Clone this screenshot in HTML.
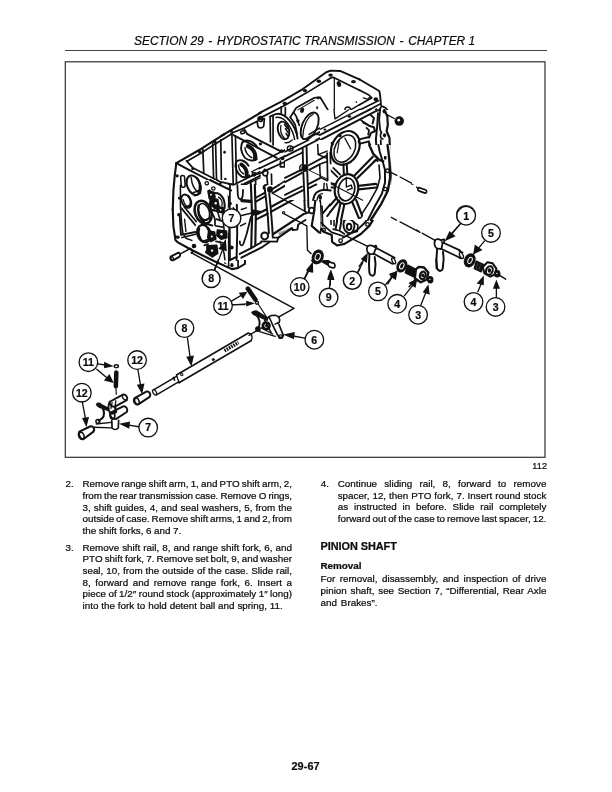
<!DOCTYPE html>
<html><head><meta charset="utf-8">
<style>
html,body{margin:0;padding:0;background:#fff;}
body{width:612px;height:792px;position:relative;overflow:hidden;font-family:"Liberation Sans",sans-serif;color:#0c0c0c;-webkit-text-stroke:0.22px #0c0c0c;}
.hdr{position:absolute;left:134px;top:35.9px;font-size:11.95px;line-height:11.95px;font-style:italic;white-space:nowrap;}
.hline{position:absolute;left:65px;top:50px;width:482px;height:1.4px;background:#444;}
.l{position:absolute;white-space:nowrap;font-size:9.85px;line-height:9.85px;}
svg{position:absolute;left:0;top:0;filter:blur(0.35px);}
.c{position:absolute;width:30px;text-align:center;font-weight:bold;font-size:10.6px;line-height:10.6px;}
#wrap{position:absolute;left:0;top:0;width:612px;height:792px;will-change:transform;}
</style></head><body><div id="wrap">
<div class="hdr">SECTION 29 <span style="padding:0 1.33px">-</span> HYDROSTATIC TRANSMISSION <span style="padding:0 1.33px">-</span> CHAPTER 1</div>
<div class="hline"></div>
<svg width="612" height="792" viewBox="0 0 612 792" fill="none" stroke="#111" stroke-width="1" stroke-linecap="round" stroke-linejoin="round">
<rect x="65.3" y="61.8" width="479.7" height="395.5" stroke="#303030" stroke-width="1.2" stroke-linejoin="miter"/>

<g transform="translate(200,95) scale(0.1634)" stroke-width="10.40">
<path d="M130,250 L190,215 L372,108" stroke-width="13.00"/>
<path d="M188,240 L205,228 L268,204 L350,160 L354,192 C360,205 385,205 390,190 L394,145 L365,150" stroke-width="10.40"/>
<ellipse cx="190" cy="222" rx="11" ry="9" fill="#111" stroke="none"/><ellipse cx="372" cy="136" rx="12" ry="9" fill="#111" stroke="none"/>
<ellipse cx="262" cy="228" rx="14" ry="8" transform="rotate(-20 262 228)" stroke-width="9.10"/>
<path d="M268,204 L290,240" stroke-width="10.40"/>
<path d="M205,245 L470,385" stroke-width="11.70"/><path d="M290,240 L495,345" stroke-width="11.70"/>
<g fill="#111" stroke="none"><ellipse cx="370" cy="300" rx="10" ry="9"/><ellipse cx="500" cy="345" rx="13" ry="10"/><ellipse cx="505" cy="388" rx="12" ry="9"/></g>
</g>

<g transform="translate(260,60) scale(0.1634)" stroke-width="10.40">
<path d="M-5,325 L130,255 L262,178 L405,75 L432,65 L490,67 L612,120" stroke-width="11.70"/>
<path d="M-5,358 L20,345 L150,278 L290,198 L440,106 L455,108"/>
<g fill="#111" stroke="none">
<ellipse cx="152" cy="266" rx="14" ry="11"/><ellipse cx="275" cy="187" rx="13" ry="10"/><ellipse cx="360" cy="130" rx="14" ry="11"/><ellipse cx="432" cy="92" rx="14" ry="10"/>
<ellipse cx="483" cy="147" rx="13" ry="18" transform="rotate(-20 483 147)"/><ellipse cx="572" cy="133" rx="15" ry="10"/>
<ellipse cx="258" cy="308" rx="12" ry="16" transform="rotate(20 258 308)"/><ellipse cx="232" cy="372" rx="10" ry="10"/><ellipse cx="350" cy="292" rx="6" ry="9"/><ellipse cx="356" cy="232" rx="10" ry="8"/>
<ellipse cx="545" cy="346" rx="13" ry="9"/><ellipse cx="400" cy="428" rx="11" ry="8"/><circle cx="590" cy="258" r="5"/>
</g>
<path d="M455,108 L455,360" stroke-width="7.80"/>
<!-- bearing plate -->
<path d="M185,350 L205,320 L222,292 L330,232 L368,228 L450,362"/>
<path d="M232,305 L332,246" stroke-width="6.50"/>
<path d="M185,350 L200,372 L215,395 L228,459"/>
<path d="M205,320 L222,345 L240,400"/>
<!-- big bore -->
<ellipse cx="304" cy="404" rx="46" ry="88" transform="rotate(24 304 404)" stroke-width="11.70"/>
<path d="M262,470 C262,415 285,352 325,332" stroke-width="7.80"/>
<!-- arch plate -->
<path d="M62,346 L64,500 M80,340 L80,520" stroke-width="10.40"/>
<path d="M62,346 L80,338 C115,318 150,335 180,370 C210,405 225,440 230,480" stroke-width="11.70"/>
<path d="M98,352 C125,345 150,362 172,392 C195,425 208,455 212,488" stroke-width="9.10"/>
<path d="M130,287 L130,326"/><path d="M155,292 L155,336"/>
<ellipse cx="144" cy="431" rx="34" ry="55" transform="rotate(-15 144 431)" stroke-width="11.70"/>
<path d="M128,400 C122,430 132,462 150,478" stroke-width="7.80"/>
<path d="M150,395 L168,420 M156,420 L172,445 M160,450 L170,465" stroke-width="9.10"/>
<circle cx="2" cy="362" r="14"/>
<!-- small circle right -->
<circle cx="537" cy="304" r="17" stroke-width="9.10"/>
<path d="M457,110 L612,186"/>
<path d="M612,272 L460,360 L300,455" stroke-width="9.10"/>
<path d="M612,308 L325,462" stroke-width="11.70"/>
<path d="M612,338 L400,459" stroke-width="11.70"/>
<path d="M620,376 L460,459" stroke-width="9.10"/>
<path d="M495,470 C500,430 545,415 580,425 C600,432 610,450 612,470" stroke-width="11.70"/>
<path d="M520,470 C530,445 560,440 585,452" stroke-width="9.10"/>
<circle cx="487" cy="470" r="9" fill="#111" stroke="none"/>
</g>

<g transform="translate(360,60) scale(0.1634)" stroke-width="10.40">
<path d="M-5,118 L118,190 L123,215 L126,250" stroke-width="11.70"/>
<path d="M-5,183 L55,214 L72,232 L40,250 L-5,275"/>
<path d="M20,232 L45,240 L60,228" stroke-width="7.80"/>
<ellipse cx="97" cy="240" rx="14" ry="12" fill="#111" stroke="none"/>
<path d="M112,250 L-5,308"/>
<path d="M126,268 L-5,338"/>
<path d="M126,250 L130,282 C150,285 172,300 172,322 C172,340 160,348 158,352 L165,459"/>
<circle cx="150" cy="318" r="13" fill="#111" stroke="none"/>
<path d="M128,290 C118,300 112,320 122,340 L128,400 L132,440 L150,459"/>
<path d="M168,330 L215,358" stroke-width="7.80"/>
<circle cx="238" cy="372" r="29" fill="#111" stroke="none"/>
<circle cx="236" cy="368" r="9" fill="#fff" stroke="none"/>
<path d="M100,300 L80,332 L60,345"/>
<path d="M100,345 L95,400 L100,459"/>
<path d="M-5,350 L30,340 L60,345 L80,380 L70,420 L40,400 L20,365"/>
<path d="M60,425 L40,459"/>
<path d="M-5,395 L30,420 L60,459" stroke-width="13.00"/>
</g>

<g transform="translate(260,135) scale(0.1634)" stroke-width="10.40">
<!-- near top flange lines -->
<path d="M-5,205 L130,140 L260,75 L410,-5"/>
<path d="M-5,238 L40,215 L150,165 L262,108 L440,12 L470,-5"/>
<path d="M-5,170 L100,118 L230,52 L330,-5" stroke-width="9.10"/>
<!-- partition wall top from upper-left -->
<ellipse cx="130" cy="98" rx="12" ry="9" fill="#111" stroke="none"/>
<ellipse cx="138" cy="148" rx="9" ry="7" fill="#111" stroke="none"/>
<ellipse cx="182" cy="80" rx="17" ry="16"/><path d="M182,66 L182,96" stroke-width="6.50"/>
<path d="M125,160 L125,195 L150,195 L150,165"/>
<path d="M25,215 C10,225 15,250 35,250 C50,248 52,225 40,215"/>
<circle cx="30" cy="212" r="7" fill="#111" stroke="none"/>
<!-- top items -->
<path d="M340,-5 L420,5"/>
<!-- vertical rib center -->
<path d="M262,108 L262,185 M290,95 L292,185"/>
<path d="M262,215 L270,330 L272,459 M296,215 L298,320 L298,459"/>
<ellipse cx="278" cy="200" rx="20" ry="22" fill="#111" stroke="none"/>
<!-- vertical rib left -->
<path d="M42,250 L48,325 M70,240 L72,320"/>
<path d="M50,370 L55,459 M80,365 L82,459"/>
<ellipse cx="65" cy="345" rx="20" ry="22" fill="#111" stroke="none"/>
<path d="M20,340 C10,320 25,310 40,320" stroke-width="7.80"/>
<path d="M-5,330 L20,340 M-5,395 L40,372"/>
<!-- horizontal rib 1 -->
<path d="M85,325 L255,215 M300,190 L400,140 L440,120"/>
<path d="M88,355 L260,240 M300,218 L420,155"/>
<!-- horizontal rib 2 -->
<path d="M85,440 L268,335 M300,318 L400,268"/>
<path d="M110,459 L270,362 M300,345 L410,290"/>
<path d="M-5,459 L45,430"/>
<!-- right region: vertical and bell flange -->
<path d="M350,60 L350,130 M375,75 L378,125 L420,105"/>
<path d="M378,75 L440,100 L440,160"/>
<path d="M405,175 L410,300 M430,165 L432,290"/>
<path d="M355,150 L358,260 L400,280"/>
<!-- big ring arcs -->
<path d="M470,-5 C440,50 430,120 450,165 C480,195 540,150 570,80 C590,40 590,10 588,-5" stroke-width="11.70"/>
<path d="M500,-5 C470,60 465,120 475,150 C510,150 545,90 560,30 L565,-5"/>
<path d="M520,-5 C540,30 560,60 612,75" stroke-width="9.10"/>
<path d="M560,-5 C575,30 595,45 612,50" stroke-width="9.10"/>
<!-- hub circle -->
<path d="M470,330 C470,280 510,245 555,255 C590,262 612,290 612,300" stroke-width="11.70"/>
<path d="M470,330 C468,370 480,400 505,412" stroke-width="11.70"/>
<path d="M495,335 C495,300 525,278 555,282 C580,288 600,310 600,335 C598,370 570,400 540,405 C510,400 495,370 495,335" />
<path d="M530,330 L570,300 L585,325 L545,340" stroke-width="7.80"/>
<path d="M555,260 L540,300 M520,290 L500,380"/>
<!-- spokes lower -->
<path d="M505,412 L440,459 M480,400 L400,459"/>
<path d="M560,410 L612,459 M590,390 L612,410"/>
<!-- bracket lower center -->
<path d="M320,459 L325,380 C335,350 370,340 400,345 L440,350 L470,345" stroke-width="11.70"/>
<path d="M345,459 L350,395 C360,375 380,370 395,375"/>
<ellipse cx="368" cy="380" rx="8" ry="12" fill="#111" stroke="none"/>
<path d="M400,290 L395,345 M420,300 L430,345"/>
<path d="M440,390 L445,459"/>
</g>

<g transform="translate(160,135) scale(0.1634)" stroke-width="10.40">
<path d="M100,172 L240,92 L335,31 L395,-5" stroke-width="13.00"/>
<path d="M165,160 L250,112 L335,56 L435,-5"/>
<ellipse cx="243" cy="103" rx="11" ry="10" fill="#111" stroke="none"/><ellipse cx="335" cy="42" rx="11" ry="10" fill="#111" stroke="none"/>
<path d="M100,172 L90,250 L82,340 L78,459" stroke-width="13.00"/>
<path d="M100,172 L180,215 L300,277 L440,338" stroke-width="11.70"/>
<path d="M162,158 L200,200 L370,288 L452,305"/>
<ellipse cx="200" cy="207" rx="9" ry="8" fill="#111" stroke="none"/><ellipse cx="370" cy="296" rx="11" ry="10" fill="#111" stroke="none"/><ellipse cx="400" cy="270" rx="8" ry="9" fill="#111" stroke="none"/><ellipse cx="395" cy="105" rx="8" ry="9" fill="#111" stroke="none"/>
<path d="M440,338 L612,250" stroke-width="11.70"/><path d="M452,305 L612,225"/>
<path d="M470,330 L612,262" stroke-width="7.80"/>
<path d="M440,338 L436,400 L430,459 M470,335 L468,459"/>
<!-- inner walls -->
<path d="M262,85 L268,235 M322,52 L328,265 M340,45 L346,272 M372,30 L376,290 M440,-5 L448,300 M462,10 L468,292"/>
<!-- partition bores -->
<path d="M505,45 C490,70 495,110 520,140 C545,160 580,160 592,148" stroke-width="11.70"/>
<path d="M505,45 C530,22 575,38 597,78" stroke-width="11.70"/>
<path d="M538,68 C568,82 588,112 582,145" stroke-width="26.00"/>
<path d="M520,78 C520,102 540,130 562,138" stroke-width="9.10"/>
<path d="M465,165 C455,195 470,235 500,255 C520,262 540,256 546,246" stroke-width="11.70"/>
<path d="M465,165 C485,143 522,155 542,188" stroke-width="11.70"/>
<path d="M497,180 C520,195 534,220 530,245" stroke-width="23.40"/>
<path d="M480,185 C482,205 495,228 512,238" stroke-width="9.10"/>
<path d="M560,225 L612,200 M560,250 L612,235" stroke-width="7.80"/>
<circle cx="575" cy="240" r="10"/>
<!-- front face features -->
<circle cx="105" cy="250" r="10" fill="#111" stroke="none"/>
<circle cx="290" cy="297" r="11"/><circle cx="328" cy="327" r="11"/>
<circle cx="122" cy="385" r="8" fill="#111" stroke="none"/>
<path d="M130,400 C128,370 150,360 172,378 C195,400 200,440 195,459" stroke-width="11.70"/>
<path d="M150,459 C140,430 140,400 152,395" stroke-width="9.10"/>
<path d="M215,459 C215,420 235,400 260,410 C280,420 290,440 292,459" stroke-width="11.70"/>
<path d="M240,459 L245,420 M262,459 L262,425" stroke-width="7.80"/>
<path d="M128,330 C140,345 150,350 160,348" stroke-width="9.10"/>
<!-- dark complex region -->
<path d="M285,345 L330,350 L345,385 L320,420 L300,400 Z" fill="#111"/>
<path d="M330,410 L365,395 L380,430 L350,459 L325,450 Z" fill="#111"/>
<path d="M350,360 C375,345 410,355 420,390 C425,420 415,445 405,459" stroke-width="13.00"/>
<path d="M375,380 C395,380 400,410 392,440" stroke-width="10.40"/>
<path d="M270,330 L275,380 L290,420" stroke-width="11.70"/>
<circle cx="432" cy="415" r="11" fill="#111" stroke="none"/>
<!-- right of D: wall details -->
<path d="M500,300 L498,380 M520,295 L520,330" stroke-width="9.10"/>
<circle cx="515" cy="322" r="7" fill="#111" stroke="none"/>
<path d="M490,380 L560,400 L575,395" stroke-width="13.00"/>
<path d="M555,285 L560,459 M585,275 L588,459"/>
</g>

<g transform="translate(160,210) scale(0.1634)" stroke-width="10.40">
<path d="M78,-5 L82,100 L95,185 L112,200 L200,248 L330,312 L440,362 L478,355" stroke-width="13.00"/>
<path d="M140,-5 L142,60 L148,150 L160,185 L200,205" stroke-width="11.70"/>
<path d="M110,60 L112,150" stroke-width="9.10"/>
<g fill="#111" stroke="none">
<circle cx="118" cy="30" r="11"/><circle cx="108" cy="165" r="11"/><ellipse cx="207" cy="212" rx="17" ry="15"/><circle cx="283" cy="252" r="12"/>
<ellipse cx="437" cy="228" rx="9" ry="13"/><ellipse cx="440" cy="338" rx="10" ry="13"/><ellipse cx="398" cy="312" rx="8" ry="11"/>
</g>
<!-- D edge verticals -->
<path d="M430,-5 L425,100 L418,200 L420,350 M468,-5 L470,110 L476,200 L478,355"/>
<path d="M392,190 L390,300 L400,325" stroke-width="11.70"/>
<!-- right wall part -->
<path d="M478,355 L520,330 L520,290 L612,240" stroke-width="11.70"/>
<path d="M500,270 L495,200 C490,180 510,170 515,190 L515,260" stroke-width="10.40"/>
<path d="M540,60 C535,100 520,140 515,180" stroke-width="11.70"/>
<path d="M565,40 L560,90 L530,150" stroke-width="10.40"/>
<path d="M590,100 L585,230 M560,200 L612,180" stroke-width="11.70"/>
<path d="M500,275 L580,235" stroke-width="10.40"/>
<!-- pin -->
<path d="M65,285 L110,262 C122,260 128,275 120,285 L80,308 C68,310 60,298 65,285 Z" stroke-width="11.70"/>
<ellipse cx="74" cy="297" rx="8" ry="11" transform="rotate(-25 74 297)" stroke-width="7.80"/>
<path d="M130,265 L200,228" stroke-width="9.10"/>
<!-- long line -->
<path d="M192,262 L205,250" stroke-width="10.40"/>
<!-- interior bores -->
<path d="M150,20 L215,110 M175,20 L230,95" stroke-width="10.40"/>
<path d="M150,120 L215,135 M150,150 L200,170" stroke-width="10.40"/>
<path d="M215,-5 C225,40 260,70 310,60 C335,50 335,20 330,-5" stroke-width="15.60"/>
<path d="M250,-5 C265,30 290,40 310,30" stroke-width="13.00"/>
<path d="M235,120 C240,90 275,85 300,110 C320,135 320,170 305,185 C275,190 240,160 235,120" stroke-width="13.00"/>
<path d="M262,110 C285,125 298,150 295,178" stroke-width="10.40"/>
<path d="M235,190 L300,165" stroke-width="11.70"/>
<path d="M330,90 L350,70 L380,80 L360,110 Z" fill="#111"/>
<path d="M340,120 L400,105 L415,150 L380,170 L345,160 Z" fill="#111"/>
<circle cx="378" cy="135" r="9" fill="#fff" stroke="none"/>
<path d="M310,200 L350,180 L370,215 L345,250 L315,240 Z" fill="#111"/>
<path d="M330,215 L345,225" stroke="#fff" stroke-width="7.80"/>
<path d="M300,250 L340,270 M270,235 L300,215" stroke-width="11.70"/>
<path d="M345,40 C360,60 370,90 365,120" stroke-width="10.40"/>
<path d="M320,140 L325,200" stroke-width="10.40"/>
<!-- arrow 8 -->
<path d="M332,368 L385,235" stroke-width="9.10"/>
<path d="M405,182 L352,238 L400,256 Z" fill="#111" stroke="none"/>
<!-- arrow 7 -->
<path d="M494,42 L575,25" stroke-width="9.10"/>
<path d="M560,8 L625,12 L575,45 Z" fill="#111" stroke="none"/>
<circle cx="437" cy="52" r="56" fill="#fff" stroke-width="9.10"/>
<circle cx="313" cy="420" r="55" fill="#fff" stroke-width="9.10"/>
</g>

<g transform="translate(260,210) scale(0.1634)" stroke-width="10.40">
<!-- bottom flange of side wall -->
<path d="M-5,210 L100,160 L235,88 L300,55" stroke-width="13.00"/>
<path d="M-5,235 L60,200 L110,185 L120,165" stroke-width="11.70"/>
<path d="M95,150 L200,100 M105,165 L205,118" stroke-width="9.10"/>
<path d="M200,100 L205,125 L235,110" stroke-width="10.40"/>
<path d="M-5,60 L60,20 L110,-5 M-5,95 L150,10" stroke-width="11.70"/>
<path d="M150,10 L260,-5" stroke-width="9.10"/>
<path d="M40,-5 L55,90 L60,150 M75,-5 L85,120" stroke-width="11.70"/>
<circle cx="25" cy="165" r="18" stroke-width="11.70"/><circle cx="25" cy="165" r="6" fill="#111"/>
<path d="M-5,150 L15,148 M-5,190 L20,185" stroke-width="10.40"/>
<path d="M265,-5 L275,60 M300,-5 L300,55" stroke-width="11.70"/>
<!-- leader to 10 -->
<circle cx="142" cy="18" r="7" stroke-width="7.80"/>
<path d="M150,25 L270,95 L290,112 L292,250 L312,268" stroke-width="9.10"/>
<!-- washer 10 -->
<ellipse cx="346" cy="287" rx="30" ry="40" transform="rotate(20 346 287)" fill="#111"/>
<ellipse cx="346" cy="287" rx="15" ry="22" transform="rotate(20 346 287)" stroke="#fff" stroke-width="6.50"/>
<!-- bolt 9 -->
<path d="M385,305 L425,328" stroke-width="33.80" stroke-linecap="butt"/>
<path d="M420,318 L450,325 C462,332 462,350 450,355 L430,350 C418,345 415,330 420,318 Z" fill="#fff" stroke-width="10.40"/>
<!-- arrows -->
<path d="M272,420 L300,360" stroke-width="9.10"/><path d="M325,325 L282,372 L322,385 Z" fill="#111" stroke="none"/>
<path d="M430,459 L430,400" stroke-width="9.10"/><path d="M432,365 L412,418 L452,418 Z" fill="#111" stroke="none"/>
<circle cx="565" cy="430" r="55" fill="#fff" stroke-width="9.10"/>
<path d="M600,380 L612,355" stroke-width="9.10"/>
<!-- bell bottom -->
<path d="M300,55 L318,50 L320,105 L360,125 L372,150 L440,165 L448,195 L500,215 L560,185 L612,150" stroke-width="13.00"/>
<path d="M330,55 L335,95 L385,115 L400,100" stroke-width="10.40"/>
<path d="M380,120 L395,135 L430,110 L440,60 L480,45" stroke-width="11.70"/>
<circle cx="385" cy="125" r="10" stroke-width="7.80"/>
<circle cx="495" cy="185" r="11" stroke-width="7.80"/>
<path d="M445,160 L520,170 L612,120" stroke-width="10.40"/>
<path d="M470,-5 L440,95 M495,-5 L460,110" stroke-width="10.40"/>
<path d="M360,-5 L380,40 L420,50" stroke-width="10.40"/>
<path d="M435,60 L438,85" stroke-width="7.80"/>
<!-- boss -->
<path d="M505,95 C500,70 520,55 545,60 L575,70 C590,85 590,120 570,135 L535,135 C515,130 508,115 505,95" stroke-width="11.70"/>
<ellipse cx="545" cy="102" rx="14" ry="18" fill="#111"/>
<ellipse cx="545" cy="102" rx="5" ry="7" fill="#fff" stroke="none"/>
<path d="M580,85 L612,60 M585,130 L612,110" stroke-width="10.40"/>
<path d="M520,-5 L530,60 M560,-5 L565,65" stroke-width="10.40"/>
</g>

<g transform="translate(360,135) scale(0.1634)" stroke-width="10.40">
<path d="M168,-5 L180,100 L188,215 L184,320 L160,362 L118,459" stroke-width="13.00"/>
<path d="M95,-5 L100,40 L75,60 L70,100 L110,140 L150,170 L155,240 L155,300 L135,335 L92,440 L85,459" stroke-width="11.70"/>
<path d="M125,-5 L118,50 L118,95 L150,120" stroke-width="10.40"/>
<path d="M140,-5 L150,20 L135,45" stroke-width="10.40"/>
<g fill="#111" stroke="none"><ellipse cx="150" cy="142" rx="10" ry="13"/><ellipse cx="172" cy="216" rx="9" ry="12"/><ellipse cx="153" cy="332" rx="9" ry="12"/><ellipse cx="150" cy="8" rx="10" ry="12"/></g>
<circle cx="150" cy="142" r="16" stroke-width="6.50"/><circle cx="153" cy="332" r="16" stroke-width="6.50"/>
<path d="M-5,20 L40,10 L60,40 L30,60 L-5,50" stroke-width="11.70"/>
<path d="M40,60 L70,95" stroke-width="11.70"/>
<path d="M-5,205 L75,140 M-5,235 L90,160" stroke-width="11.70"/>
<path d="M75,165 C95,175 105,165 110,150" stroke-width="9.10"/>
<path d="M-5,305 L95,302 M-5,328 L100,322" stroke-width="13.00"/>
<path d="M120,180 L112,300 L60,459" stroke-width="10.40"/>
<path d="M-5,385 L95,435 M-5,415 L80,459" stroke-width="10.40"/>
<path d="M30,459 L45,430" stroke-width="10.40"/>
<path d="M192,230 L240,257 M258,268 L350,322" stroke-width="9.10"/>
<path d="M360,322 L400,335 C412,342 410,356 398,356 L360,342 C350,336 352,324 360,322 Z" stroke-width="10.40"/>
</g>

<g transform="translate(360,210) scale(0.1634)" stroke-width="9.60">
<!-- dashed centre line -->
<path d="M118,-2 L225,55 M242,65 L360,130 M380,142 L462,188" stroke-width="8.40"/>
<!-- housing flange bottom -->
<path d="M112,-5 L62,70 L25,120 L-5,150" stroke-width="12.00"/>
<path d="M85,-5 L40,60 L-5,115" stroke-width="9.60"/>
<path d="M60,-5 L30,40 L-5,75" stroke-width="9.60"/>
<path d="M40,75 L55,90" stroke-width="7.20"/>
<!-- arm 1 (right) -->
<path d="M500,196 L612,247 M496,237 L612,292" stroke-width="10.80"/>
<path d="M460,185 C465,175 485,178 495,185 L515,180 C520,190 515,200 505,205 L498,240 L470,235 C455,225 452,200 460,185 Z" stroke-width="10.80"/>
<path d="M472,240 L468,300 L472,358 C480,378 500,376 506,360 L512,300 L508,255" stroke-width="12.00"/>

<!-- arrow 1 -->
<path d="M612,88 L560,145" stroke-width="8.40"/><path d="M518,192 L548,128 L585,160 Z" fill="#111" stroke="none"/>
<circle cx="648" cy="30" r="57" fill="#fff" stroke-width="8.40"/>
<!-- arm 2 (left) -->
<path d="M88,226 L212,292 M82,266 L200,330" stroke-width="10.80"/>
<ellipse cx="206" cy="311" rx="9" ry="20" transform="rotate(-25 206 311)" stroke-width="8.40"/>
<path d="M45,225 C50,212 72,215 82,222 L98,218 C104,228 100,240 92,245 L85,270 L55,268 C42,258 40,238 45,225 Z" stroke-width="10.80"/>
<path d="M58,268 L55,330 L57,382 C62,406 84,408 90,390 L95,330 L90,288" stroke-width="12.00"/>

<!-- arrow 2 -->
<path d="M-5,345 L25,300" stroke-width="8.40"/><path d="M48,262 L5,300 L42,325 Z" fill="#111" stroke="none"/>
<path d="M-5,130 L15,140 L40,110" stroke-width="8.40"/>
<!-- washer 5 -->
<ellipse cx="256" cy="342" rx="27" ry="38" transform="rotate(25 256 342)" fill="#111"/>
<ellipse cx="256" cy="342" rx="12" ry="20" transform="rotate(25 256 342)" stroke="#fff" stroke-width="6.00"/>
<!-- arrow 5 -->
<path d="M170,452 L200,405" stroke-width="8.40"/><path d="M228,368 L182,405 L220,428 Z" fill="#111" stroke="none"/>
<!-- guide 4 -->
<path d="M292,338 L340,362 L326,408 L278,384 Z" fill="#111"/>
<path d="M336,368 L360,348 L392,352 L418,382 L410,425 L372,442 L336,420 Z" fill="#fff" stroke-width="14.40"/>
<ellipse cx="384" cy="400" rx="17" ry="23" transform="rotate(20 384 400)" stroke-width="13.20"/><ellipse cx="384" cy="400" rx="5" ry="7" fill="#111"/>
<path d="M345,370 L340,410" stroke-width="7.20"/>
<ellipse cx="430" cy="427" rx="16" ry="19" fill="#111" stroke-width="7.20"/><circle cx="428" cy="425" r="4" fill="#fff" stroke="none"/>
<path d="M335,435 L300,470" stroke-width="8.40"/><path d="M352,418 L308,440 L335,470 Z" fill="#111" stroke="none"/>
</g>

<g transform="translate(230,185) scale(0.1634)" stroke-width="12.00">
<rect x="0" y="0" width="612" height="459" fill="#fff" stroke="none"/>
<!-- vertical rib A -->
<path d="M128,0 L132,100 L135,200 L132,300 L130,382 M152,0 L155,100 L158,190 L156,300 L155,368" stroke-width="13.20"/>
<!-- vertical rib B -->
<path d="M212,15 L222,100 L232,200 L238,295 M240,50 L250,150 L258,250 L262,322" stroke-width="12.00"/>
<ellipse cx="245" cy="28" rx="18" ry="20" fill="#111" stroke="none"/>
<path d="M205,22 C205,8 212,0 222,0" stroke-width="10.80"/>
<circle cx="212" cy="312" r="21" fill="#fff" stroke-width="12.00"/>
<path d="M190,345 L288,347 L296,322 L270,322" stroke-width="10.80"/>
<!-- vertical rib C -->
<path d="M452,0 L455,80 L458,158 M475,0 L478,80 L480,138" stroke-width="12.00"/>
<circle cx="500" cy="156" r="17" fill="#fff" stroke-width="10.80"/>
<!-- H1 -->
<path d="M158,78 L212,48 M158,102 L216,70 M258,25 L300,0 M260,50 L340,2" stroke-width="12.00"/>
<!-- H2 -->
<path d="M158,182 L225,148 M255,132 L452,25 L498,0" stroke-width="13.20"/>
<path d="M158,212 L230,176 M258,160 L455,52 M478,40 L540,2" stroke-width="13.20"/>
<!-- H3 bottom flange -->
<path d="M265,300 L450,178 L480,168" stroke-width="13.20"/>
<path d="M296,322 L380,264 L384,276 L412,273 L418,242 L462,214" stroke-width="12.00"/>
<path d="M300,300 L372,266" stroke-width="16.80" stroke-dasharray="3 4" stroke-linecap="butt"/>
<path d="M60,422 L130,386 L190,352 M70,445 L200,378 L240,350" stroke-width="12.00"/>
<path d="M0,459 L40,440" stroke-width="12.00"/>
<!-- diagonal -->
<path d="M268,55 L468,166" stroke-width="8.40"/>
<!-- dot + leader -->
<circle cx="328" cy="170" r="7" stroke-width="7.20"/>
<path d="M335,178 L470,250 L474,400 L496,420" stroke-width="8.40"/>
<!-- washer 10 -->
<ellipse cx="537" cy="440" rx="30" ry="40" transform="rotate(20 537 440)" fill="#111"/>
<ellipse cx="537" cy="440" rx="15" ry="22" transform="rotate(20 537 440)" stroke="#fff" stroke-width="6.00"/>
<!-- left wall near D -->
<path d="M0,0 L-2,200 L0,459" stroke-width="10.80"/>
<path d="M45,0 L48,60 C52,95 76,95 78,62 L80,30" stroke-width="10.80"/>
<path d="M42,120 L44,300 L40,459" stroke-width="12.00"/>
<path d="M60,345 C58,368 72,378 82,360 L102,300 L128,195" stroke-width="10.80"/>
<path d="M72,96 L128,100" stroke-width="19.20"/>
<path d="M20,140 C30,150 30,170 20,180" stroke-width="9.60"/>
<circle cx="10" cy="382" r="12" fill="#111" stroke="none"/>
<path d="M70,150 L100,140 M65,250 L95,235" stroke-width="9.60"/>
<!-- right: bell lower-left -->
<path d="M480,0 L500,42 L540,55" stroke-width="12.00"/>
<path d="M500,55 L522,95 L512,180 L500,250 L545,290 L580,296 L612,278" stroke-width="13.20"/>
<path d="M540,55 L556,110 L560,200 L560,262" stroke-width="12.00"/>
<circle cx="566" cy="277" r="12" stroke-width="8.40"/>
<path d="M575,55 L612,98 M598,150 L612,140 M560,0 L575,55" stroke-width="12.00"/>
<ellipse cx="552" cy="72" rx="8" ry="12" fill="#111" stroke="none"/>
<path d="M580,200 L612,190 M585,240 L612,232" stroke-width="10.80"/>
<!-- arrow 7 -->
<path d="M65,188 L140,170" stroke-width="8.40"/><path d="M203,160 L132,149 L140,189 Z" fill="#111" stroke="none"/>
<circle cx="8.6" cy="205" r="56" fill="#fff" stroke-width="8.40"/>
</g>

<g transform="translate(320,110) scale(0.1634)" stroke-width="12.00">
<rect x="0" y="0" width="560" height="459" fill="#fff" stroke="none"/>
<!-- near flange -->
<path d="M174,0 L92,54 M86,0 L91,52" stroke-width="8.40"/>
<path d="M0,118 L245,-5" stroke-width="8.40"/>
<path d="M0,152 L310,-5" stroke-width="12.00"/>
<path d="M0,185 L345,5 L368,0" stroke-width="12.00"/>
<g fill="#111" stroke="none"><ellipse cx="30" cy="120" rx="9" ry="7"/><ellipse cx="180" cy="40" rx="11" ry="8"/><ellipse cx="122" cy="158" rx="11" ry="9"/></g>
<!-- boss and bracket -->
<path d="M240,180 L300,165 M246,206 L300,192" stroke-width="12.00"/>
<path d="M240,180 C232,190 236,202 246,206" stroke-width="9.60"/>
<path d="M265,75 L300,96 L330,106 L336,130 L312,140 L300,168" stroke-width="13.20"/>
<path d="M285,110 L300,125 L295,150" stroke-width="10.80"/>
<path d="M310,30 L330,50 L322,82" stroke-width="12.00"/>
<path d="M250,60 L268,78" stroke-width="10.80"/>
<path d="M355,20 L350,100 L342,180 L346,240" stroke-width="12.00"/>
<path d="M300,200 L320,240 L346,240 L332,270 L356,300 L380,312" stroke-width="13.20"/>
<path d="M325,290 L235,395 M346,312 L256,410" stroke-width="12.00"/>
<path d="M332,335 C345,338 352,330 352,320" stroke-width="8.40"/>
<!-- rear face right flange -->
<path d="M395,0 L412,40 L415,90 L408,130 L425,170 L428,230 L420,280 L428,330 L432,400 L428,459" stroke-width="13.20"/>
<path d="M368,0 L362,60 L368,120 L376,140" stroke-width="10.80"/>
<path d="M376,140 C365,150 368,172 385,178 M376,280 C365,292 370,312 388,318" stroke-width="9.60"/>
<path d="M372,185 L374,272" stroke-width="10.80"/>
<path d="M400,322 L396,459 M366,330 L360,459" stroke-width="10.80"/>
<g fill="#111" stroke="none"><ellipse cx="393" cy="8" rx="10" ry="13"/><ellipse cx="395" cy="155" rx="10" ry="13"/><ellipse cx="395" cy="296" rx="10" ry="13"/><ellipse cx="416" cy="375" rx="7" ry="10"/></g>
<!-- hub ring top -->
<path d="M95,459 C100,425 140,395 180,390 C225,392 258,420 265,459" stroke-width="13.20"/>
<path d="M130,459 C140,430 165,415 195,415 C222,420 238,440 240,459" stroke-width="9.60"/>
<path d="M150,332 L150,393 M176,332 L176,390" stroke-width="10.80"/>
<!-- left rib grid -->
<path d="M40,300 L42,459 M66,288 L68,459" stroke-width="12.00"/>
<path d="M0,232 L75,200 M0,258 L70,228" stroke-width="12.00"/>
<path d="M0,300 L40,288 M0,330 L40,318" stroke-width="10.80"/>
<path d="M0,400 L40,386 M0,428 L40,414" stroke-width="10.80"/>
<path d="M75,200 C85,215 85,235 70,228" stroke-width="8.40"/>
<path d="M68,330 C80,345 90,355 100,360" stroke-width="9.60"/>
<path d="M300,345 L296,459 M330,360 C345,350 355,352 360,360" stroke-width="9.60"/>
<!-- screw -->
<path d="M412,30 L455,52" stroke-width="8.40"/>
<circle cx="485" cy="68" r="29" fill="#111" stroke="none"/>
<circle cx="482" cy="62" r="8" fill="#fff" stroke="none"/>
<!-- dashed -->
<path d="M434,382 L470,400 M490,410 L560,448" stroke-width="8.40"/>
</g>

<g transform="translate(320,185) scale(0.1634)" stroke-width="12.00">
<path d="M8,0 L588,0 L588,300 L250,300 L250,380 L8,380 Z" fill="#fff" stroke="none"/>
<!-- hub ring bottom -->
<path d="M80,0 C80,50 105,100 150,115 C195,112 225,60 232,0" stroke-width="13.20"/>
<path d="M106,0 C108,40 125,78 155,90 C185,85 202,45 206,0" stroke-width="9.60"/>
<path d="M150,0 L185,-20 M130,20 L170,5" stroke-width="7.20"/>
<!-- spokes -->
<path d="M88,88 L18,172 M110,110 L44,190" stroke-width="12.00"/>
<path d="M122,120 L96,268 M147,126 L122,270" stroke-width="12.00"/>
<path d="M196,106 L226,190 M216,96 L246,180" stroke-width="12.00"/>
<path d="M226,190 C232,198 244,194 246,180" stroke-width="8.40"/>
<path d="M232,10 L335,-8" stroke-width="12.00"/>
<path d="M8,42 L80,30 M8,76 L76,62" stroke-width="12.00"/>
<path d="M12,130 L16,250" stroke-width="10.80"/>
<!-- bell outer flange -->
<path d="M422,0 L402,60 L352,170 L302,250 L250,300 L150,360 L104,370 L74,348 L72,306 L25,288 L8,268" stroke-width="13.20"/>
<path d="M382,0 L362,70 L322,150 L276,230 L226,276 L140,322" stroke-width="12.00"/>
<path d="M332,40 L292,130 L252,200" stroke-width="9.60"/>
<circle cx="402" cy="25" r="11" stroke-width="8.40"/><circle cx="291" cy="241" r="11" stroke-width="8.40"/><circle cx="126" cy="341" r="11" stroke-width="8.40"/><circle cx="22" cy="275" r="11" stroke-width="8.40"/>
<path d="M8,232 L40,262 L72,290 L140,312" stroke-width="10.80"/>
<!-- boss -->
<path d="M148,218 C160,202 190,205 205,225 C215,245 212,275 192,294 C172,298 152,285 146,262 C142,245 143,230 148,218 Z" stroke-width="12.00" fill="#fff"/>
<ellipse cx="178" cy="256" rx="14" ry="19" stroke-width="12.00"/>
<path d="M205,225 L232,245 L228,285 L192,294" stroke-width="9.60"/>
<!-- bracket -->
<path d="M66,202 L86,196 L86,250 M66,202 L68,240" stroke-width="9.60"/>
<path d="M80,270 L120,280 L150,300" stroke-width="9.60"/>
<!-- centre dashed line -->
<path d="M150,30 L215,70 L345,150 L468,215 M490,226 L612,290" stroke-width="8.40"/>
<path d="M160,312 L292,376" stroke-width="8.40"/>
</g>

<g transform="translate(165,180) scale(0.1307)" stroke-width="14.40">
<path d="M92,0 L480,0 L480,640 L200,520 L92,425 Z" fill="#fff" stroke="none"/>
<!-- top bore -->
<ellipse cx="220" cy="40" rx="50" ry="78" transform="rotate(-22 220 40)" stroke-width="15.60"/>
<path d="M200,-20 C205,30 222,70 250,88" stroke-width="10.80"/>
<path d="M215,98 L268,78 M228,120 L272,100" stroke-width="13.20"/>
<!-- left bore -->
<ellipse cx="163" cy="162" rx="34" ry="54" transform="rotate(-25 163 162)" stroke-width="14.40"/>
<path d="M140,150 C145,180 160,200 180,205" stroke-width="9.60"/>
<path d="M150,210 L200,190" stroke-width="12.00"/>
<!-- centre bore -->
<ellipse cx="292" cy="246" rx="62" ry="90" transform="rotate(-20 292 246)" stroke-width="19.20"/>
<ellipse cx="298" cy="244" rx="40" ry="66" transform="rotate(-20 298 244)" stroke-width="12.00"/>
<path d="M295,310 L345,292" stroke-width="14.40"/>
<!-- lower bore -->
<ellipse cx="298" cy="410" rx="50" ry="68" transform="rotate(-20 298 410)" stroke-width="16.80"/>
<path d="M315,355 C335,385 345,420 338,455" stroke-width="10.80"/>
<path d="M290,470 L345,450" stroke-width="13.20"/>
<!-- ribs -->
<path d="M125,215 L232,345 M147,205 L238,318" stroke-width="13.20"/>
<path d="M112,262 L122,420 L232,398" stroke-width="14.40"/>
<path d="M150,300 L160,395" stroke-width="10.80"/>
<path d="M130,440 L235,415" stroke-width="13.20"/>
<path d="M118,40 L118,200 L128,340 L136,405 L160,445 L205,462" stroke-width="12.00"/>
<rect x="122" y="-34" width="30" height="90" rx="14" stroke-width="12.00" transform="rotate(-4 137 10)"/>
<path d="M344,0 L505,80" stroke-width="15.60"/>
<path d="M395,0 L425,15 L527,37" stroke-width="13.20"/>
<circle cx="424" cy="27" r="9" fill="#111" stroke="none"/>
<!-- bolt holes -->
<g fill="#111" stroke="none"><circle cx="110" cy="140" r="11"/><circle cx="105" cy="265" r="12"/><circle cx="100" cy="437" r="13"/><circle cx="222" cy="505" r="18"/><circle cx="318" cy="550" r="12"/></g>
<circle cx="320" cy="25" r="13" stroke-width="9.60"/><circle cx="370" cy="65" r="13" stroke-width="9.60"/>
<!-- dark complex upper -->
<path d="M340,85 L352,150 L345,215" stroke-width="24.00"/>
<path d="M385,100 C425,100 462,140 456,215" stroke-width="15.60"/>
<path d="M410,132 C430,142 442,170 436,200" stroke-width="10.80"/>
<path d="M362,140 L402,150 L412,200 L380,218 L358,190 Z" fill="#111"/>
<circle cx="388" cy="178" r="9" fill="#fff" stroke="none"/>
<path d="M345,232 C372,262 388,300 382,342" stroke-width="13.20"/>
<path d="M400,235 L420,300" stroke-width="12.00"/>
<!-- dark complex lower -->
<path d="M335,392 L378,400 L388,450 L350,470 L328,440 Z" fill="#111"/>
<path d="M402,384 L468,392 L472,440 L430,452 L398,425 Z" fill="#111"/>
<circle cx="432" cy="415" r="9" fill="#fff" stroke="none"/><circle cx="358" cy="432" r="8" fill="#fff" stroke="none"/>
<path d="M322,505 L395,500 L402,560 L362,588 L322,560 Z" fill="#111"/>
<circle cx="360" cy="540" r="9" fill="#fff" stroke="none"/>
<path d="M390,470 L440,480 M385,350 L440,360 M300,500 L330,490" stroke-width="13.20"/>
<path d="M420,470 L452,560 L458,610" stroke-width="12.00"/>
<!-- extra shading -->
<path d="M258,195 C246,235 260,295 300,322" stroke-width="19.20"/>
<path d="M178,122 C197,142 202,176 190,200" stroke-width="15.60"/>
<path d="M248,-12 C268,20 272,60 256,96" stroke-width="15.60"/>
<path d="M262,372 C250,402 262,452 292,472" stroke-width="15.60"/>
<path d="M330,85 L374,95 L382,132 L340,142 Z" fill="#111"/>
<path d="M396,202 L450,216 L452,252 L400,242 Z" fill="#111"/>
<path d="M350,228 L438,242" stroke-width="16.80"/>
<path d="M300,332 L362,348 M392,300 L450,318" stroke-width="14.40"/>
<path d="M440,260 L452,380" stroke-width="12.00"/>
<circle cx="500" cy="180" r="12" fill="#111" stroke="none"/>
<circle cx="352" cy="112" r="7" fill="#fff" stroke="none"/><circle cx="425" cy="228" r="7" fill="#fff" stroke="none"/>
<!-- arrow 8 -->
<path d="M380,690 L438,540" stroke-width="9.60"/><path d="M466,452 L408,528 L472,546 Z" fill="#111" stroke="none"/>
<!-- circle 7 -->
<circle cx="509" cy="292" r="71" fill="#fff" stroke-width="10.80"/>
</g>

<g transform="translate(330,145) scale(0.1634)" stroke-width="12.00">
<rect x="0" y="0" width="372" height="459" fill="#fff" stroke="none"/>
<!-- hub -->
<ellipse cx="101" cy="270" rx="71" ry="92" transform="rotate(12 101 270)" stroke-width="13.20"/>
<ellipse cx="101" cy="272" rx="50" ry="70" transform="rotate(12 101 272)" stroke-width="10.80"/>
<path d="M100,198 L100,258 M100,256 L130,245 L136,265 L106,276" stroke-width="8.40"/>
<!-- spokes -->
<path d="M85,180 L82,118 M106,178 L102,114" stroke-width="12.00"/>
<path d="M150,186 L262,72 M168,202 L282,90" stroke-width="13.20"/>
<path d="M173,250 L280,238 M176,272 L284,260" stroke-width="13.20"/>
<path d="M280,238 C292,240 294,256 284,260" stroke-width="9.60"/>
<path d="M136,350 L176,446 M160,336 L196,430" stroke-width="13.20"/>
<path d="M176,446 C184,450 196,442 196,430" stroke-width="9.60"/>
<path d="M64,356 L42,459 M88,362 L68,459" stroke-width="13.20"/>
<path d="M42,322 L0,370 M56,340 L0,412" stroke-width="13.20"/>
<path d="M30,262 L0,258 M32,240 L0,232" stroke-width="12.00"/>
<path d="M45,195 L0,150 M62,182 L20,140" stroke-width="10.80"/>
<!-- bell flange right -->
<path d="M352,0 L360,60 L365,120 L368,200 L354,280 L314,360 L250,459" stroke-width="14.40"/>
<path d="M296,0 L304,40 L322,100 L336,150 L337,230 L317,300 L272,380 L232,459" stroke-width="12.00"/>
<path d="M300,122 L306,200 L290,262 L242,350 L196,420" stroke-width="9.60"/>
<path d="M240,0 L266,56 L300,90 L326,100" stroke-width="14.40"/>
<path d="M266,102 C275,92 288,92 292,100" stroke-width="9.60"/>
<ellipse cx="338" cy="78" rx="9" ry="12" fill="#111" stroke="none"/>
<circle cx="352" cy="158" r="11" stroke-width="8.40"/><circle cx="338" cy="270" r="11" stroke-width="8.40"/>
<!-- centre line -->
<path d="M0,236 L100,286 L200,338" stroke-width="7.20"/>
</g>

<g transform="translate(285,140) scale(0.1307)" stroke-width="14.40">
<rect x="0" y="0" width="350" height="459" fill="#fff" stroke="none"/>
<path d="M0,90 L180,0" stroke-width="13.20"/>
<path d="M0,125 L250,0" stroke-width="14.40"/>
<path d="M0,160 L135,95" stroke-width="13.20"/>
<ellipse cx="40" cy="65" rx="22" ry="20" stroke-width="10.80"/><path d="M40,46 L40,84" stroke-width="7.20"/>
<path d="M0,20 C20,25 40,15 55,0" stroke-width="10.80"/>
<!-- vertical rib -->
<path d="M135,62 L138,190 M165,48 L168,186" stroke-width="14.40"/>
<path d="M140,245 L150,459 M170,240 L178,459" stroke-width="14.40"/>
<ellipse cx="152" cy="215" rx="26" ry="29" fill="#111" stroke="none"/>
<path d="M125,190 C108,200 108,228 125,238" stroke-width="10.80"/>
<!-- H ribs -->
<path d="M0,290 L125,228 M0,322 L130,252" stroke-width="14.40"/>
<path d="M178,195 L322,118 M185,228 L262,188" stroke-width="14.40"/>
<path d="M0,420 L130,356 M0,452 L140,384" stroke-width="14.40"/>
<path d="M176,340 L268,292 M182,368 L240,340" stroke-width="14.40"/>
<!-- box panel -->
<path d="M265,185 L270,285 L326,312 M265,185 L322,165" stroke-width="12.00"/>
<path d="M322,100 L326,300 M346,95 L349,180" stroke-width="13.20"/>
<path d="M250,35 L254,112 L322,85 M254,112 L322,140" stroke-width="12.00"/>
<path d="M185,232 L330,302" stroke-width="7.20"/>
<!-- bottom bracket -->
<path d="M215,459 C220,410 250,385 295,380 L350,386" stroke-width="15.60"/>
<path d="M245,459 C250,425 265,410 288,410" stroke-width="10.80"/>
<path d="M300,330 L296,380 M318,335 L326,384" stroke-width="10.80"/>
<ellipse cx="270" cy="440" rx="13" ry="19" fill="#111" stroke="none"/>
</g>

<g transform="translate(320,110) scale(0.1634)" stroke-width="12.00">
<!-- ring -->
<ellipse cx="155" cy="232" rx="82" ry="108" transform="rotate(27 155 232)" stroke-width="13.20"/>
<ellipse cx="152" cy="236" rx="60" ry="88" transform="rotate(27 152 236)" stroke-width="9.60"/>
<path d="M118,185 L105,262 M152,172 L188,238" stroke-width="7.20"/>
</g>

<g transform="translate(440,195) scale(0.1634)" stroke-width="9.20">
<path d="M118,342 L138,352 M118,384 L124,388" stroke-width="10.35"/>
<ellipse cx="131" cy="370" rx="10" ry="20" transform="rotate(-25 131 370)" stroke-width="8.05"/>
<path d="M125,175 L70,240" stroke-width="8.05"/>
<path d="M205,362 L272,282" stroke-width="8.05"/><path d="M203,364 L213,303 L260,337 Z" fill="#111" stroke="none"/>
<circle cx="160" cy="127" r="57" fill="#fff" stroke-width="8.05"/>
<circle cx="312" cy="232" r="57" fill="#fff" stroke-width="8.05"/>
<!-- washer 5 -->
<ellipse cx="182" cy="400" rx="30" ry="40" transform="rotate(25 182 400)" fill="#111"/>
<ellipse cx="184" cy="400" rx="12" ry="20" transform="rotate(25 184 400)" stroke="#fff" stroke-width="5.75"/>
<!-- spring -->
<path d="M222,405 L265,425 L252,470 L210,450 Z" fill="#111"/>
<path d="M232,415 L222,450 M248,422 L238,458" stroke="#555" stroke-width="3.45"/>
<!-- guide 4 -->
<path d="M262,440 L290,412 L322,418 L345,450 L338,485 L308,500 L272,480 Z" fill="#fff" stroke-width="12.65"/>
<ellipse cx="302" cy="462" rx="20" ry="27" transform="rotate(20 302 462)" stroke-width="12.65"/>
<ellipse cx="302" cy="462" rx="6" ry="9" fill="#111"/>
<!-- o-ring 3 -->
<ellipse cx="350" cy="482" rx="17" ry="20" fill="#111" stroke-width="6.90"/><circle cx="348" cy="480" r="4" fill="#fff" stroke="none"/>
<path d="M365,492 L402,515" stroke-width="9.20"/>
<!-- arrow 4 -->
<path d="M232,592 L255,535" stroke-width="8.05"/><path d="M268,492 L224,542 L268,553 Z" fill="#111" stroke="none"/>
<!-- arrow 3 -->
<path d="M345,628 L345,560" stroke-width="8.05"/><path d="M345,517 L324,573 L367,573 Z" fill="#111" stroke="none"/>
<circle cx="205" cy="654" r="57" fill="#fff" stroke-width="8.05"/>
<circle cx="340" cy="685" r="57" fill="#fff" stroke-width="8.05"/>
<!-- arm1 lever bottom (left edge) -->
</g>

<g transform="translate(340,260) scale(0.1634)" stroke-width="9.20">
<path d="M108,75 L140,15" stroke-width="8.05"/>
<path d="M280,150 L325,95" stroke-width="8.05"/><path d="M352,66 L298,85 L340,122 Z" fill="#111" stroke="none"/>
<path d="M395,218 L445,155" stroke-width="8.05"/><path d="M472,118 L418,140 L462,172 Z" fill="#111" stroke="none"/>
<path d="M495,275 L527,195" stroke-width="8.05"/><path d="M541,148 L506,198 L549,213 Z" fill="#111" stroke="none"/>
<circle cx="232" cy="192" r="57" fill="#fff" stroke-width="8.05"/>
<circle cx="350" cy="268" r="57" fill="#fff" stroke-width="8.05"/>
<circle cx="478" cy="335" r="57" fill="#fff" stroke-width="8.05"/>
<path d="M588,-5 L590,50 L612,68" stroke-width="10.35"/>
</g>

<g transform="translate(260,260) scale(0.1634)" stroke-width="9.20">
<path d="M275,112 L300,62" stroke-width="8.05"/><path d="M323,10 L283,60 L326,77 Z" fill="#111" stroke="none"/>
<path d="M425,172 L431,112" stroke-width="8.05"/><path d="M435,60 L411,122 L456,122 Z" fill="#111" stroke="none"/>
<circle cx="243" cy="165" r="57" fill="#fff" stroke-width="8.05"/>
<circle cx="420" cy="230" r="57" fill="#fff" stroke-width="8.05"/>
</g>
<g transform="translate(240,285) scale(0.1634)" stroke-width="9.20">
<!-- long line V -->
<!-- spring 11 -->
<path d="M48,22 L95,90" stroke-width="27.60"/>
<ellipse cx="104" cy="109" rx="9" ry="9" stroke-width="8.05"/>
<path d="M112,118 L165,200" stroke-width="6.90"/>
<!-- arrows from 11 -->
<path d="M-55,100 L10,62" stroke-width="8.05"/><path d="M45,42 L-8,48 L18,85 Z" fill="#111" stroke="none"/>
<path d="M-47,122 L45,115" stroke-width="8.05"/><path d="M92,112 L38,96 L38,132 Z" fill="#111" stroke="none"/>
<!-- fork 6 -->
<path d="M72,168 C80,156 100,156 114,166 L172,203 L160,214 L100,188 C88,185 78,180 72,168 Z" fill="#111" stroke-width="6.90"/>
<path d="M98,182 C116,202 127,232 114,262" stroke-width="11.50"/>
<circle cx="108" cy="268" r="12" fill="#111" stroke="none"/>
<path d="M165,215 C165,195 185,185 215,185 C240,188 248,210 240,228 L215,240" stroke-width="10.35"/>
<path d="M200,245 L232,310 C240,325 262,325 265,308 L238,240" stroke-width="10.35" fill="#fff"/>
<ellipse cx="249" cy="316" rx="13" ry="11" stroke-width="8.05"/>
<circle cx="160" cy="250" r="24" fill="#111"/><circle cx="160" cy="250" r="10" stroke="#fff" stroke-width="4.60"/>
<circle cx="110" cy="270" r="13" fill="#111"/>
<path d="M120,285 L215,315 M130,262 L200,300" stroke-width="8.05"/>
<path d="M180,200 L200,245 M150,215 L190,290" stroke-width="9.20"/>
<!-- line to rail -->
<path d="M105,278 L55,308" stroke-width="8.05"/>
<!-- arrow 6 -->
<path d="M398,325 L325,312" stroke-width="8.05"/><path d="M262,303 L336,288 L330,332 Z" fill="#111" stroke="none"/>
<circle cx="455" cy="335" r="57" fill="#fff" stroke-width="8.05"/>
</g>

<g stroke-width="1.61">
<path d="M193.5,251 L191.5,252.8 L294,308.4 L278.9,316.9" stroke-width="1.49"/>
<!-- rail 8 -->
<path d="M176.5,375 L248,333.2 M179,382.8 L251,340.8"/>
<path d="M248,333.2 C251.5,332.5 253.5,337.5 251,340.8" stroke-width="1.38"/>
<path d="M154,389.6 L176.5,376.3 M156.5,394.8 L179,381.6" stroke-width="1.49"/>
<path d="M176.5,375 L179,382.8" stroke-width="1.26"/>
<ellipse cx="154.6" cy="392.3" rx="1.6" ry="3" transform="rotate(-30 154.6 392.3)" stroke-width="1.26"/>
<path d="M224.5,350.8 L238.5,342.6" stroke-width="3.45" stroke-dasharray="1.6 1" stroke-linecap="butt"/>
<circle cx="213.3" cy="359.6" r="1.1" fill="#111" stroke-width="0.92"/>
<circle cx="181.8" cy="374.6" r="1.2" stroke-width="1.03"/>
<path d="M173.5,377.5 L174.5,380" stroke-width="1.72"/>
</g>
<g transform="translate(140,300) scale(0.1634)" stroke-width="9.20">
<path d="M290,230 L306,345" stroke-width="8.05"/><path d="M315,407 L283,347 L330,340 Z" fill="#111" stroke="none"/>
<path d="M565,28 L640,28" stroke-width="8.05"/>
<circle cx="508" cy="35" r="57" fill="#fff" stroke-width="8.05"/>
<circle cx="272" cy="172" r="57" fill="#fff" stroke-width="8.05"/>
</g>
<g transform="translate(66,345) scale(0.1634)" stroke-width="9.20">
<!-- arrows 11 -->
<path d="M195,115 L250,124" stroke-width="8.05"/><path d="M292,130 L233,103 L233,142 Z" fill="#111" stroke="none"/>
<ellipse cx="308" cy="130" rx="13" ry="9" stroke-width="8.05"/>
<path d="M188,148 L250,200" stroke-width="8.05"/><path d="M292,232 L232,218 L266,178 Z" fill="#111" stroke="none"/>
<path d="M308,168 L305,252" stroke-width="27.60"/>
<path d="M305,255 L308,302" stroke-width="6.90"/>
<!-- arrow 12 top -->
<path d="M440,150 L456,245" stroke-width="8.05"/><path d="M466,302 L433,243 L480,236 Z" fill="#111" stroke="none"/>
<!-- spacer 12 -->
<path d="M420,325 L492,285 C510,282 522,300 512,318 L445,362 C425,370 408,345 420,325 Z" stroke-width="12.65" fill="#fff"/>
<ellipse cx="434" cy="344" rx="13" ry="21" transform="rotate(-25 434 344)" stroke-width="9.20"/>
<!-- arrow 12 left -->
<path d="M100,350 L118,445" stroke-width="8.05"/><path d="M125,503 L98,447 L141,440 Z" fill="#111" stroke="none"/>
<circle cx="137" cy="105" r="57" fill="#fff" stroke-width="8.05"/>
<circle cx="435" cy="92" r="57" fill="#fff" stroke-width="8.05"/>
<circle cx="97" cy="292" r="57" fill="#fff" stroke-width="8.05"/>
</g>
<g transform="translate(66,390) scale(0.1634)" stroke-width="9.20">
<!-- spacer 12 lower -->
<path d="M82,255 L150,222 C168,220 178,238 168,255 L108,300 C88,308 70,280 82,255 Z" stroke-width="12.65" fill="#fff"/>
<ellipse cx="96" cy="278" rx="13" ry="21" transform="rotate(-25 96 278)" stroke-width="9.20"/>
<!-- fork 7 -->
<path d="M186,88 C192,78 206,78 216,88 L262,112 L255,126 L222,112 C205,108 192,100 186,88 Z" fill="#111" stroke-width="6.90"/>
<path d="M222,108 C236,125 236,160 222,172 L200,188" stroke-width="12.65"/>
<circle cx="195" cy="192" r="12" stroke-width="9.20"/>
<path d="M268,72 L348,28 C365,25 382,45 372,62 L300,102 C280,105 262,90 268,72 Z" stroke-width="11.50" fill="#fff"/>
<path d="M348,28 C340,45 350,60 372,62" stroke-width="8.05"/>
<path d="M270,140 L350,100 C368,98 380,115 372,135 L305,178 C285,182 265,160 270,140 Z" stroke-width="11.50" fill="#fff"/>
<ellipse cx="285" cy="158" rx="14" ry="20" stroke-width="10.35"/>
<ellipse cx="292" cy="138" rx="22" ry="10" fill="#111" stroke="none" transform="rotate(-15 292 138)"/>
<path d="M282,78 L275,112 M305,66 L300,102" stroke-width="8.05"/>
<path d="M268,72 C255,95 258,125 270,140" stroke-width="11.50"/>
<path d="M300,102 L305,125" stroke-width="13.80"/>
<path d="M280,185 L282,232 C290,245 312,245 320,232 L322,185" stroke-width="10.35" fill="#fff"/>
<path d="M172,228 L280,232 M185,208 L278,198" stroke-width="8.05"/>
<!-- arrow 7 -->
<path d="M445,225 L385,215" stroke-width="8.05"/><path d="M325,206 L392,193 L387,237 Z" fill="#111" stroke="none"/>
<circle cx="503" cy="230" r="57" fill="#fff" stroke-width="8.05"/>
</g>

</svg>
<div class="c" style="left:216.4px;top:213.33px">7</div>
<div class="c" style="left:196.1px;top:273.43px">8</div>
<div class="c" style="left:337.3px;top:275.63px">2</div>
<div class="c" style="left:284.7px;top:281.83px">10</div>
<div class="c" style="left:313.6px;top:292.43px">9</div>
<div class="c" style="left:451.1px;top:210.63px">1</div>
<div class="c" style="left:476.0px;top:227.73px">5</div>
<div class="c" style="left:458.5px;top:296.73px">4</div>
<div class="c" style="left:480.6px;top:301.83px">3</div>
<div class="c" style="left:362.9px;top:286.23px">5</div>
<div class="c" style="left:382.2px;top:298.63px">4</div>
<div class="c" style="left:403.1px;top:309.53px">3</div>
<div class="c" style="left:299.3px;top:334.53px">6</div>
<div class="c" style="left:208.0px;top:300.53px">11</div>
<div class="c" style="left:169.4px;top:322.93px">8</div>
<div class="c" style="left:73.4px;top:357.03px">11</div>
<div class="c" style="left:122.1px;top:354.83px">12</div>
<div class="c" style="left:66.8px;top:387.53px">12</div>
<div class="c" style="left:133.2px;top:422.43px">7</div>
<div class="l" style="left:65.5px;top:479.46px;word-spacing:0.000px;letter-spacing:0.000px">2.</div>
<div class="l" style="left:82.5px;top:479.46px;word-spacing:-0.592px;letter-spacing:0.000px">Remove range shift arm, 1, and PTO shift arm, 2,</div>
<div class="l" style="left:82.5px;top:490.99px;word-spacing:-0.439px;letter-spacing:-0.098px">from the rear transmission case. Remove O rings,</div>
<div class="l" style="left:82.5px;top:502.52px;word-spacing:0.356px;letter-spacing:0.000px">3, shift guides, 4, and seal washers, 5, from the</div>
<div class="l" style="left:82.5px;top:514.05px;word-spacing:-0.858px;letter-spacing:0.000px">outside of case. Remove shift arms, 1 and 2, from</div>
<div class="l" style="left:82.5px;top:525.58px;word-spacing:-0.159px;letter-spacing:0.000px">the shift forks, 6 and 7.</div>
<div class="l" style="left:65.5px;top:542.86px;word-spacing:0.000px;letter-spacing:0.000px">3.</div>
<div class="l" style="left:82.5px;top:542.86px;word-spacing:0.297px;letter-spacing:0.000px">Remove shift rail, 8, and range shift fork, 6, and</div>
<div class="l" style="left:82.5px;top:554.42px;word-spacing:-0.594px;letter-spacing:0.000px">PTO shift fork, 7. Remove set bolt, 9, and washer</div>
<div class="l" style="left:82.5px;top:565.98px;word-spacing:0.234px;letter-spacing:0.000px">seal, 10, from the outside of the case. Slide rail,</div>
<div class="l" style="left:82.5px;top:577.54px;word-spacing:1.838px;letter-spacing:0.000px">8, forward and remove range fork, 6. Insert a</div>
<div class="l" style="left:82.5px;top:589.10px;word-spacing:-0.304px;letter-spacing:0.000px">piece of 1/2″ round stock (approximately 1″ long)</div>
<div class="l" style="left:82.5px;top:600.66px;word-spacing:0.143px;letter-spacing:0.000px">into the fork to hold detent ball and spring, 11.</div>
<div class="l" style="left:320.7px;top:479.46px;word-spacing:0.000px;letter-spacing:0.000px">4.</div>
<div class="l" style="left:337.7px;top:479.46px;word-spacing:4.507px;letter-spacing:0.000px">Continue sliding rail, 8, forward to remove</div>
<div class="l" style="left:337.7px;top:490.96px;word-spacing:0.255px;letter-spacing:0.000px">spacer, 12, then PTO fork, 7. Insert round stock</div>
<div class="l" style="left:337.7px;top:502.46px;word-spacing:3.140px;letter-spacing:0.000px">as instructed in before. Slide rail completely</div>
<div class="l" style="left:337.7px;top:513.96px;word-spacing:-0.766px;letter-spacing:0.000px">forward out of the case to remove last spacer, 12.</div>
<div class="l" style="left:320.5px;top:574.46px;word-spacing:1.752px;letter-spacing:0.000px">For removal, disassembly, and inspection of drive</div>
<div class="l" style="left:320.5px;top:586.16px;word-spacing:0.950px;letter-spacing:0.000px">pinion shaft, see Section 7, “Differential, Rear Axle</div>
<div class="l" style="left:320.5px;top:597.86px;word-spacing:1.188px;letter-spacing:0.000px">and Brakes”.</div>
<div class="l" style="left:320.5px;top:541.47px;font-size:10.9px;line-height:10.9px;letter-spacing:-0.049px;font-weight:bold;">PINION SHAFT</div>
<div class="l" style="left:320.5px;top:560.62px;font-size:9.9px;line-height:9.9px;letter-spacing:-0.029px;font-weight:bold;">Removal</div>
<div class="l" style="left:532.3px;top:462.38px;font-size:9.0px;line-height:9.0px;letter-spacing:0.170px;">112</div>
<div class="l" style="left:291.5px;top:760.67px;font-size:10.9px;line-height:10.9px;letter-spacing:0.060px;font-weight:bold;">29-67</div>
</div></body></html>
